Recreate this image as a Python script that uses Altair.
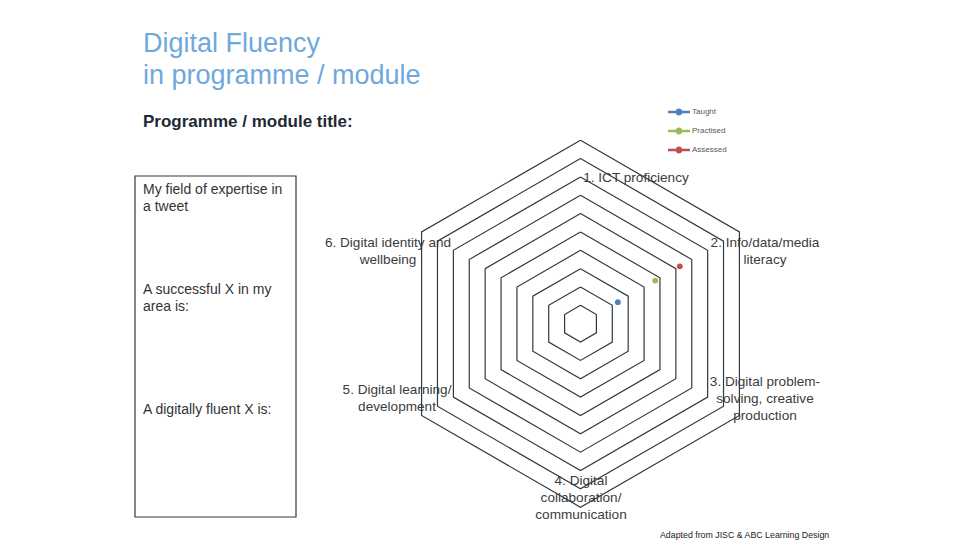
import altair as alt
import pandas as pd

# ---------------- data ----------------
AXIS_LABELS = [
    "1. ICT proficiency",
    "2. Info/data/media\nliteracy",
    "3. Digital problem-\nsolving, creative\nproduction",
    "4. Digital\ncollaboration/\ncommunication",
    "5. Digital learning/\ndevelopment",
    "6. Digital identity and\nwellbeing",
]
AXES = [1, 2, 3, 4, 5, 6]
RINGS = list(range(1, 11))

SERIES = ["Taught", "Practised", "Assessed"]
SERIES_AXIS = [2, 2, 2]
SERIES_VALUES = [2.35, 4.7, 6.25]
SERIES_COLORS = ["#4F81BD", "#9BBB59", "#C0504D"]

TITLE_LINES = ["Digital Fluency", "in programme / module"]
SUBTITLE = "Programme / module title:"
BOX_TEXTS = ["My field of expertise in\na tweet", "A successful X in my\narea is:", "A digitally fluent X is:"]
FOOTER = "Adapted from JISC & ABC Learning Design"

# ---------------- layout ----------------
FONT = "Liberation Sans"
W, H = 944, 532
CX, CY, UNIT = 572.5, 315.7, 18.35
GRID = "#2E3B43"
TXT = "#3C3C3C"

xscale = alt.Scale(domain=[-CX / UNIT, (W - CX) / UNIT], nice=False, zero=False)
yscale = alt.Scale(domain=[(CY - H) / UNIT, CY / UNIT], nice=False, zero=False)

polar = dict(
    theta="(datum.axis - 1) * PI / 3",
    gx="datum.r * sin(datum.theta)",
    gy="datum.r * cos(datum.theta)",
)

grid_rows = []
for r in RINGS:
    for k in range(7):
        grid_rows.append({"ring": r, "k": k, "axis": AXES[k % 6], "r": r})
grid_df = pd.DataFrame(grid_rows)

grid = (
    alt.Chart(grid_df)
    .transform_calculate(**polar)
    .mark_line(color=GRID, strokeWidth=1.2)
    .encode(
        x=alt.X("gx:Q", scale=xscale, axis=None),
        y=alt.Y("gy:Q", scale=yscale, axis=None),
        detail="ring:N",
        order="k:Q",
    )
)

pts_df = pd.DataFrame({"series": SERIES, "axis": SERIES_AXIS, "r": SERIES_VALUES})
legend_path = (
    "M-2.2,-0.25H2.2V0.25H-2.2Z "
    "M-0.7,0A0.7,0.7 0 1,1 0.7,0A0.7,0.7 0 1,1 -0.7,0Z"
)
points = (
    alt.Chart(pts_df)
    .transform_calculate(**polar)
    .mark_point(filled=True, size=34, opacity=1)
    .encode(
        x=alt.X("gx:Q", scale=xscale, axis=None),
        y=alt.Y("gy:Q", scale=yscale, axis=None),
        color=alt.Color(
            "series:N",
            sort=SERIES,
            scale=alt.Scale(domain=SERIES, range=SERIES_COLORS),
            legend=alt.Legend(
                title=None,
                orient="none",
                legendX=666,
                legendY=99,
                padding=0,
                symbolType=legend_path,
                symbolSize=100,
                symbolStrokeWidth=0,
                symbolOpacity=1,
                labelFont=FONT,
                labelFontSize=8,
                labelColor="#595959",
                labelOffset=8,
                rowPadding=10,
            ),
        ),
    )
)

one = pd.DataFrame({"a": [0]})


def txt(text, x, y, size, color=TXT, align="left", weight="normal", lh=None):
    kw = dict(
        align=align,
        baseline="alphabetic",
        font=FONT,
        fontSize=size,
        color=color,
        fontWeight=weight,
        lineBreak="\n",
    )
    if lh is not None:
        kw["lineHeight"] = lh
    return alt.Chart(one).mark_text(**kw).encode(
        x=alt.value(x), y=alt.value(y), text=alt.value(text)
    )


layers = [grid, points]

# axis labels (chart pixel coords = page - 8)
LBL = 13.6
label_pos = [
    (628, 174, "center"),
    (757, 239, "center"),
    (757, 378, "center"),
    (573, 477, "center"),
    (389, 386, "center"),
    (380, 239, "center"),
]
for lab, (px, py, al) in zip(AXIS_LABELS, label_pos):
    layers.append(txt(lab, px, py, LBL, align=al, lh=17))

# titles
layers.append(txt("\n".join(TITLE_LINES), 135, 44, 27, color="#6FA8DC", lh=32.3))
layers.append(txt(SUBTITLE, 135, 118.5, 17, color="#1E2A35", weight="bold"))

# box
box = alt.Chart(one).mark_rect(fillOpacity=0, stroke=GRID, strokeWidth=1.2).encode(
    x=alt.value(127), x2=alt.value(288), y=alt.value(168), y2=alt.value(509)
)
layers.append(box)
for t, py in zip(BOX_TEXTS, [186, 286, 406]):
    layers.append(txt(t, 135, py, 14, color="#333333", lh=16.5))

# footer
layers.append(txt(FOOTER, 652, 530, 8.8, color="#222222"))

chart = (
    alt.layer(*layers)
    .properties(width=W, height=H, autosize=alt.AutoSizeParams(type="none"), padding=0)
    .configure_view(stroke=None)
)

chart.save("out.html", embed_options={"renderer": "svg", "actions": False})
